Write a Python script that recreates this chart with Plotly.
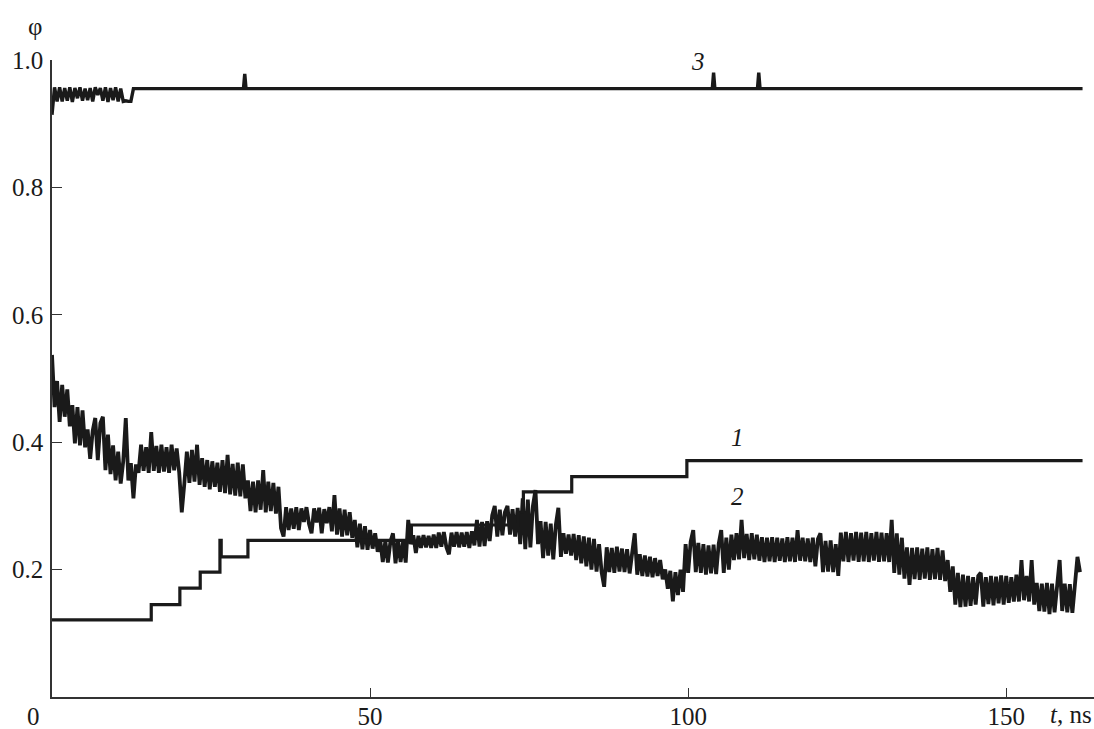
import plotly.graph_objects as go

# ---------------- data ----------------
# Curve 1: step function
t1 = [0, 15.6, 20.1, 23.3, 26.4, 26.6, 30.8, 56.5, 73.2, 74.1, 81.7, 99.8, 162.0]
phi1 = [0.121, 0.145, 0.171, 0.196, 0.246, 0.220, 0.246, 0.270, 0.290, 0.322, 0.346, 0.371, 0.371]

# Curve 2: noisy trace, sampled every 0.4 ns, values in thousandths of phi
t2_step = 0.4
phi2_x1000 = [
    537, 455, 496, 432, 490, 440, 483, 425, 458, 398,
    455, 395, 450, 392, 420, 374, 418, 438, 372, 430,
    440, 356, 412, 350, 395, 340, 385, 335, 370, 438,
    340, 367, 312, 365, 352, 396, 355, 392, 352, 416,
    355, 394, 352, 396, 354, 392, 352, 396, 356, 390,
    352, 290, 335, 385, 336, 388, 338, 396, 333, 375,
    330, 372, 326, 370, 330, 368, 322, 372, 320, 380,
    318, 366, 316, 368, 315, 365, 312, 340, 292, 338,
    290, 340, 294, 356, 290, 338, 292, 336, 288, 330,
    265, 252, 298, 262, 296, 264, 298, 262, 296, 275,
    298, 272, 257, 296, 274, 297, 257, 295, 273, 298,
    260, 317, 255, 296, 252, 294, 254, 290, 250, 278,
    235, 272, 232, 268, 231, 262, 233, 257, 228, 246,
    212, 245, 211, 244, 257, 210, 246, 212, 245, 211,
    278, 240, 254, 226, 253, 234, 254, 235, 253, 234,
    255, 234, 258, 236, 259, 235, 224, 258, 236, 259,
    235, 258, 236, 259, 234, 260, 238, 278, 236, 275,
    237, 276, 245, 285, 300, 252, 294, 254, 290, 300,
    255, 295, 252, 297, 240, 312, 232, 310, 235, 300,
    325, 240, 276, 218, 275, 222, 272, 216, 270, 297,
    220, 257, 225, 255, 222, 256, 215, 254, 210, 252,
    205, 250, 200, 248, 197, 240, 196, 173, 235, 196,
    234, 195, 236, 197, 233, 196, 232, 194, 226, 257,
    192, 224, 190, 222, 189, 220, 188, 218, 190, 215,
    185, 200, 170, 198, 150, 196, 160, 200, 165, 240,
    195, 244, 262, 196, 242, 195, 240, 192, 238, 194,
    239, 193, 240, 262, 195, 250, 200, 255, 215, 257,
    216, 278, 218, 256, 215, 257, 216, 255, 214, 251,
    212, 250, 213, 251, 212, 250, 214, 249, 212, 251,
    213, 250, 212, 262, 214, 250, 213, 249, 212, 250,
    205, 248, 257, 196, 245, 197, 246, 196, 240, 190,
    258, 213, 259, 212, 257, 214, 259, 212, 258, 213,
    259, 212, 257, 214, 259, 212, 258, 213, 257, 212,
    278, 195, 257, 192, 250, 186, 235, 176, 234, 185,
    235, 184, 233, 186, 235, 184, 232, 185, 234, 184,
    230, 182, 215, 165, 205, 145, 195, 141, 192, 142,
    190, 143, 188, 145, 190, 195, 142, 188, 146, 190,
    144, 189, 147, 191, 145, 190, 148, 188, 150, 192,
    150, 215, 152, 190, 150, 215, 145, 179, 135, 178,
    134, 179, 130, 178, 133, 180, 215, 135, 178, 133,
    177, 132, 176, 220, 196,
]
t2 = [round(i * t2_step, 1) for i in range(len(phi2_x1000))]
phi2 = [v / 1000 for v in phi2_x1000]

# Curve 3: near 0.955 with early fluctuations and three short spikes
t3 = [0.0, 0.4, 0.8, 1.2, 1.6, 2.0, 2.4, 2.8, 3.2, 3.6, 4.0, 4.4, 4.8, 5.2, 5.6,
      6.0, 6.4, 6.8, 7.2, 7.6, 8.0, 8.4, 8.8, 9.2, 9.6, 10.0, 10.4, 10.8, 11.2,
      11.6, 12.0, 12.4, 12.8,
      30.1, 30.3, 30.5, 103.8, 104.0, 104.2, 110.9, 111.1, 111.3, 162.0]
phi3_x1000 = [914, 957, 935, 957, 935, 956, 936, 957, 934, 956, 940, 957, 936, 955, 937,
              956, 935, 957, 945, 956, 936, 957, 934, 956, 937, 957, 935, 955, 935,
              936, 935, 935, 955,
              955, 978, 955, 955, 980, 955, 955, 980, 955, 955]
phi3 = [v / 1000 for v in phi3_x1000]

x_ticks = [0, 50, 100, 150]
x_tick_text = ["0\u00a0\u00a0\u00a0\u00a0\u00a0\u00a0", "50", "100", "150"]
y_ticks = [0.2, 0.4, 0.6, 0.8, 1.0]
y_tick_text = ["0.2", "0.4", "0.6", "0.8", "1.0"]

curve_labels = ["1", "2", "3"]
label_t = [107.7, 107.7, 101.6]
label_phi = [0.408, 0.3155, 0.997]

# ---------------- figure ----------------
INK = "#1a1a1a"
FONT = '"Liberation Serif", "Times New Roman", serif'

fig = go.Figure()
fig.add_trace(go.Scatter(x=t2, y=phi2, mode="lines",
                         line=dict(color=INK, width=3.8), showlegend=False))
fig.add_trace(go.Scatter(x=t1, y=phi1, mode="lines", line_shape="hv",
                         line=dict(color=INK, width=3.2), showlegend=False))
fig.add_trace(go.Scatter(x=t3, y=phi3, mode="lines",
                         line=dict(color=INK, width=3.4), showlegend=False))

for txt, tx, ty in zip(curve_labels, label_t, label_phi):
    fig.add_annotation(x=tx, y=ty, xref="x", yref="y", text=f"<i>{txt}</i>",
                       showarrow=False, font=dict(family=FONT, size=25, color=INK))

fig.add_annotation(x=1.0, y=-0.028, xref="paper", yref="paper",
                   text="<i>t</i>, ns", showarrow=False, xanchor="right", yanchor="middle",
                   font=dict(family=FONT, size=25, color=INK))
fig.add_annotation(x=-0.0163, y=1.053, xref="paper", yref="paper",
                   text="φ", showarrow=False, xanchor="center", yanchor="middle",
                   font=dict(family=FONT, size=25, color=INK))

fig.update_layout(
    width=1094, height=729,
    margin=dict(l=52, r=0, t=60, b=32, autoexpand=False),
    paper_bgcolor="white", plot_bgcolor="white",
    font=dict(family=FONT, size=25, color=INK),
)
fig.update_xaxes(range=[0, 163.8], showgrid=False, zeroline=False, automargin=False,
                 showline=True, linecolor="#333333", linewidth=1.5,
                 ticks="inside", ticklen=9, tickwidth=1.3, tickcolor="#333333",
                 tickvals=x_ticks, ticktext=x_tick_text, ticklabelstandoff=-4)
fig.update_yaxes(range=[0, 1.0], showgrid=False, zeroline=False, automargin=False,
                 showline=True, linecolor="#333333", linewidth=1.5,
                 ticks="inside", ticklen=10, tickwidth=1.3, tickcolor="#333333",
                 tickvals=y_ticks, ticktext=y_tick_text, ticklabelstandoff=2)

fig.write_html("out.html", config={"displayModeBar": False},
               post_script="document.body.style.margin='0';document.body.style.padding='0';")
